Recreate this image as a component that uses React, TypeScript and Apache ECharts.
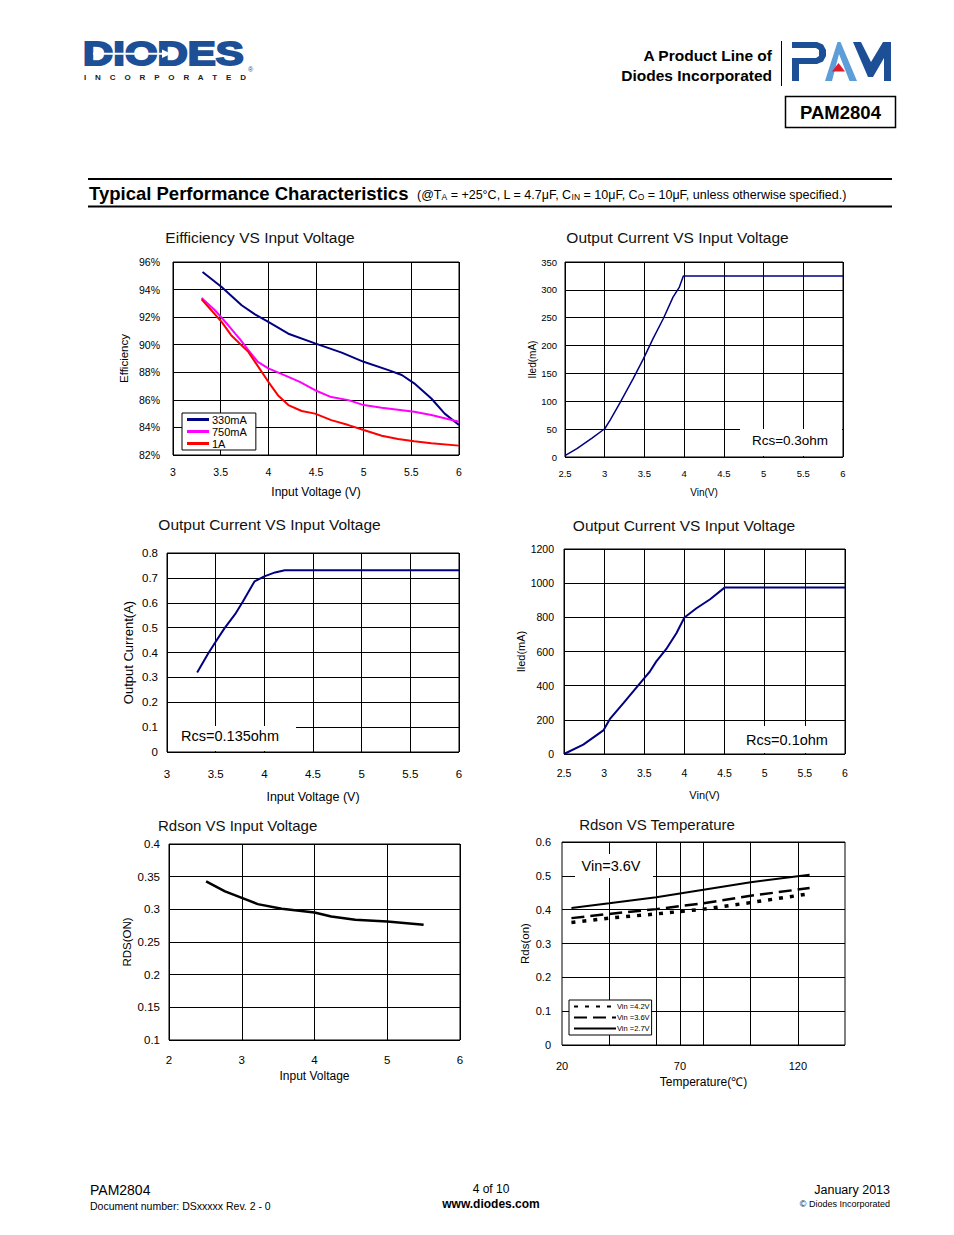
import React, { useEffect, useRef } from 'react';
import * as echarts from 'echarts';

// ---------- DATA ----------
const effVin330 = [3.31, 3.51, 3.72, 3.86, 4.0, 4.21, 4.49, 4.77, 5.0, 5.26, 5.4, 5.53, 5.71, 5.85, 6.0];
const eff330 = [95.28, 94.19, 92.86, 92.2, 91.66, 90.8, 90.1, 89.43, 88.76, 88.16, 87.8, 87.2, 86.1, 85.0, 84.17];
const effVin750 = [3.3, 3.44, 3.58, 3.71, 3.79, 3.89, 4.0, 4.21, 4.33, 4.49, 4.66, 4.84, 5.0, 5.19, 5.53, 5.71, 6.0];
const eff750 = [93.39, 92.5, 91.41, 90.33, 89.6, 88.76, 88.28, 87.67, 87.3, 86.7, 86.2, 85.98, 85.62, 85.43, 85.14, 84.9, 84.41];
const effVin1A = [3.3, 3.51, 3.61, 3.79, 4.0, 4.1, 4.21, 4.35, 4.49, 4.66, 4.84, 5.0, 5.19, 5.36, 5.53, 5.71, 6.0];
const eff1A = [93.3, 91.66, 90.69, 89.48, 87.31, 86.34, 85.62, 85.19, 85.0, 84.53, 84.17, 83.81, 83.4, 83.16, 83.0, 82.85, 82.68];
const effNames = ['330mA', '750mA', '1A'];

const vin03 = [2.5, 2.65, 2.84, 3.0, 3.07, 3.19, 3.36, 3.49, 3.61, 3.74, 3.86, 3.94, 3.99, 4.5, 5.0, 5.5, 6.0];
const iled03 = [2.4, 14.9, 34, 50.7, 66.8, 96.6, 141, 177, 213, 249, 287, 305, 325, 325, 325, 325, 325];

const vin0135 = [3.31, 3.42, 3.49, 3.59, 3.7, 3.78, 3.9, 4.0, 4.11, 4.21, 5.0, 6.0];
const iout0135 = [0.32, 0.394, 0.437, 0.497, 0.554, 0.605, 0.686, 0.706, 0.722, 0.731, 0.731, 0.731];

const vin01 = [2.5, 2.74, 2.99, 3.07, 3.24, 3.49, 3.57, 3.65, 3.78, 3.9, 4.0, 4.15, 4.32, 4.5, 5.0, 6.0];
const iled01 = [0, 54.5, 138, 204, 298, 438, 483, 542, 619, 707, 799, 853, 906, 974, 974, 974];

const rdsVin = [2.51, 2.77, 3.01, 3.22, 3.55, 4.0, 4.23, 4.56, 5.0, 5.5];
const rdsOn = [0.3428, 0.3274, 0.3172, 0.308, 0.3009, 0.2952, 0.2891, 0.284, 0.2814, 0.2763];

const tempC = [24, 40, 60, 80, 100, 125];
const rds27 = [0.405, 0.419, 0.437, 0.459, 0.481, 0.503];
const rds36 = [0.375, 0.3875, 0.4016, 0.419, 0.441, 0.464];
const rds42 = [0.362, 0.375, 0.3875, 0.4016, 0.421, 0.447];
const tempNames = ['Vin =4.2V', 'Vin =3.6V', 'Vin =2.7V'];
const tempGridLines = [40, 60, 70, 80, 100, 120];
const tempTickLabels = [20, 70, 120];

const zip = (xs: number[], ys: number[]) => xs.map((x, i) => [x, ys[i]]);

const FONT = "'Liberation Sans', Arial, sans-serif";
const NAVY = '#000080';
const BLUE = '#1d4f97';
const LIGHT = '#5d9dd8';

function xAx(gi: number, min: number, max: number, interval: number, name: string, nameGap: number, nameSize: number, fs: number, margin: number, extra: any = {}) {
  return {
    type: 'value', gridIndex: gi, min, max, interval, name, nameLocation: 'middle', nameGap,
    nameTextStyle: { fontFamily: FONT, fontSize: nameSize, color: '#000' },
    axisLine: { show: false }, axisTick: { show: false },
    axisLabel: { margin, fontFamily: FONT, fontSize: fs, color: '#000', ...(extra.axisLabel || {}) },
    splitLine: extra.splitLine || { show: true, lineStyle: { color: '#000', width: 1 } },
  };
}
function yAx(gi: number, min: number, max: number, interval: number, name: string, nameGap: number, nameSize: number, fs: number, margin: number, extra: any = {}) {
  return {
    type: 'value', gridIndex: gi, min, max, interval, name, nameLocation: 'middle', nameGap, nameRotate: 90,
    nameTextStyle: { fontFamily: FONT, fontSize: nameSize, color: '#000' },
    axisLine: { show: false }, axisTick: { show: false },
    axisLabel: { margin, fontFamily: FONT, fontSize: fs, color: '#000', formatter: (v: number) => String(v), ...(extra.axisLabel || {}) },
    splitLine: { show: true, lineStyle: { color: '#000', width: 1 } },
  };
}
function grid(left: number, top: number, width: number, height: number) {
  return { left, top, width, height, show: true, borderColor: '#000', borderWidth: 1, backgroundColor: 'transparent', containLabel: false, outerBoundsMode: 'none' };
}
function txt(text: string, x: number, y: number, fontSize: number, opts: any = {}) {
  const align = opts.align || 'left';
  return {
    type: 'text', x, y, z: opts.z || 50, scaleX: opts.scaleX || 1,
    style: {
      text, fontSize, fontFamily: opts.font || FONT, fontWeight: opts.bold ? 'bold' : 'normal',
      fill: opts.fill || '#000', stroke: opts.stroke, lineWidth: opts.lineWidth,
      align, textAlign: align, verticalAlign: 'middle', textVerticalAlign: 'middle',
      rich: opts.rich,
    },
  };
}
function whiteBox(x: number, y: number, w: number, h: number) {
  return { type: 'rect', z: 49, shape: { x, y, width: w, height: h }, style: { fill: '#fff' } };
}

function buildOption() {
  const line = (name: string, data: number[][], gi: number, color: string, width: number, type: any = 'solid', extra: any = {}) => ({
    name, type: 'line', xAxisIndex: gi, yAxisIndex: gi, data, showSymbol: false, symbol: 'none',
    lineStyle: { color, width, type }, itemStyle: { color }, z: 3, ...extra,
  });

  const graphics: any[] = [
    // DIODES logo
    txt('DIODES', 83, 54, 33, { bold: true, fill: BLUE, stroke: BLUE, lineWidth: 2, scaleX: 1.27 }),
    { type: 'rect', z: 60, shape: { x: 93, y: 52.8, width: 70, height: 2 }, style: { fill: '#fff' } },
    { type: 'polygon', z: 60, shape: { points: [[162, 49.5], [171, 53.8], [162, 58]] }, style: { fill: '#fff' } },
    txt('I    N    C    O    R    P    O    R    A    T    E    D', 84, 77.5, 8, { bold: true, fill: '#222' }),
    txt('®', 248, 69, 7, { fill: BLUE }),
    // right header
    txt('A Product Line of', 772, 55, 15.5, { bold: true, align: 'right' }),
    txt('Diodes Incorporated', 772, 75, 15.5, { bold: true, align: 'right' }),
    { type: 'line', shape: { x1: 781.5, y1: 41, x2: 781.5, y2: 86 }, style: { stroke: '#000', lineWidth: 1 } },
    { type: 'polygon', shape: { points: [[792, 42], [817, 42], [823, 44.5], [826, 50], [826, 56], [823, 61.5], [817, 64], [799, 64], [799, 81], [792, 81], [792, 58], [816, 58], [819, 56], [819, 50], [816, 48], [792, 48]] }, style: { fill: BLUE } },
    { type: 'polygon', shape: { points: [[825, 81], [837.5, 42], [840.5, 42], [857, 81], [849.5, 81], [839, 54], [832, 81]] }, style: { fill: LIGHT } },
    { type: 'polygon', shape: { points: [[832, 71.5], [838.5, 63], [845, 71.5]] }, style: { fill: '#e0192b' } },
    { type: 'polygon', shape: { points: [[853, 42], [861, 42], [871, 62], [883, 42], [891, 42], [891, 81], [884, 81], [884, 58], [873, 77], [868, 77]] }, style: { fill: BLUE } },
    { type: 'rect', shape: { x: 785.5, y: 96.5, width: 110, height: 31 }, style: { fill: 'none', stroke: '#000', lineWidth: 1.5 } },
    txt('PAM2804', 840.5, 112, 18.5, { bold: true, align: 'center' }),
    // section header
    { type: 'line', shape: { x1: 88, y1: 179, x2: 892, y2: 179 }, style: { stroke: '#000', lineWidth: 2 } },
    { type: 'line', shape: { x1: 88, y1: 206.5, x2: 892, y2: 206.5 }, style: { stroke: '#000', lineWidth: 2 } },
    txt('Typical Performance Characteristics', 89, 193, 18.5, { bold: true }),
    txt('(@T{s|A} = +25°C, L = 4.7μF, C{s|IN} = 10μF, C{s|O} = 10μF, unless otherwise specified.)', 417, 195, 12.5, {
      rich: { s: { fontSize: 8.5, fontFamily: FONT, verticalAlign: 'bottom', fill: '#000', color: '#000' } },
    }),
    // chart titles
    txt('Eifficiency VS Input Voltage', 260, 237, 15.5, { align: 'center', fill: '#111' }),
    txt('Output Current VS Input Voltage', 677.5, 237.5, 15.5, { align: 'center', fill: '#111' }),
    txt('Output Current VS Input Voltage', 269.5, 524, 15.5, { align: 'center', fill: '#111' }),
    txt('Output Current VS Input Voltage', 684, 525, 15.5, { align: 'center', fill: '#111' }),
    txt('Rdson VS Input Voltage', 158, 825, 15, { fill: '#111' }),
    txt('Rdson VS Temperature', 657, 824, 15, { align: 'center', fill: '#111' }),
    // annotations
    whiteBox(740, 429, 102, 27),
    txt('Rcs=0.3ohm', 790, 440, 13.5, { align: 'center', z: 51 }),
    whiteBox(168, 726, 128, 25),
    txt('Rcs=0.135ohm', 230, 735.5, 14.5, { align: 'center', z: 51 }),
    whiteBox(734, 726, 110, 27),
    txt('Rcs=0.1ohm', 787, 740, 14.5, { align: 'center', z: 51 }),
    whiteBox(575, 854, 78, 24),
    txt('Vin=3.6V', 611, 866, 14.5, { align: 'center', z: 51 }),
    // footer
    txt('PAM2804', 90, 1190, 14),
    txt('Document number: DSxxxxx Rev. 2 - 0', 90, 1206, 10.5),
    txt('4 of 10', 491, 1189, 12, { align: 'center' }),
    txt('www.diodes.com', 491, 1204, 12, { bold: true, align: 'center' }),
    txt('January 2013', 890, 1190, 12.5, { align: 'right' }),
    txt('© Diodes Incorporated', 890, 1204, 9, { align: 'right' }),
  ];

  return {
    animation: false,
    backgroundColor: '#fff',
    textStyle: { fontFamily: FONT },
    grid: [
      grid(173, 262, 286, 193),
      grid(565, 262, 278, 195),
      grid(167, 553, 292, 199),
      grid(564, 549, 281, 205),
      grid(169, 844, 291, 196),
      grid(562, 842, 283, 203),
    ],
    xAxis: [
      xAx(0, 3, 6, 0.5, 'Input Voltage (V)', 31, 12, 10.5, 11),
      xAx(1, 2.5, 6, 0.5, 'Vin(V)', 30, 10, 9.5, 11),
      xAx(2, 3, 6, 0.5, 'Input Voltage (V)', 38, 12.5, 11.5, 16),
      xAx(3, 2.5, 6, 0.5, 'Vin(V)', 35, 11, 10.5, 13),
      xAx(4, 2, 6, 1, 'Input Voltage', 30, 12, 11.5, 14),
      xAx(5, 20, 140, 10, 'Temperature(℃)', 31, 12, 11, 15, {
        axisLabel: { formatter: (v: number) => (tempTickLabels.includes(v) ? String(v) : '') },
        splitLine: { show: false },
      }),
    ],
    yAxis: [
      yAx(0, 82, 96, 2, 'Efficiency', 43, 11.5, 10.5, 13, { axisLabel: { formatter: '{value}%' } }),
      yAx(1, 0, 350, 50, 'Iled(mA)', 28, 10, 9.5, 8),
      yAx(2, 0, 0.8, 0.1, 'Output Current(A)', 32, 13, 11.5, 9),
      yAx(3, 0, 1200, 200, 'Iled(mA)', 38, 11, 10.5, 10),
      yAx(4, 0.1, 0.4, 0.05, 'RDS(ON)', 36, 11.5, 11.5, 9),
      yAx(5, 0, 0.6, 0.1, 'Rds(on)', 31, 11.5, 11, 11),
    ],
    legend: [
      {
        data: effNames, left: 182, top: 413, orient: 'vertical', itemGap: 1, itemWidth: 22, itemHeight: 3, icon: 'rect',
        padding: [1, 9, 1, 5], borderColor: '#000', borderWidth: 1, backgroundColor: '#fff', selectedMode: false,
        textStyle: { fontFamily: FONT, fontSize: 11, color: '#000', lineHeight: 11, padding: [0, 0, 0, -2] },
      },
      {
        data: tempNames, left: 569, top: 1000, orient: 'vertical', itemGap: 2, itemWidth: 42, itemHeight: 9,
        padding: [2, 2, 2, 4], borderColor: '#000', borderWidth: 1, backgroundColor: '#fff', selectedMode: false,
        itemStyle: { opacity: 0 },
        textStyle: { fontFamily: FONT, fontSize: 7.5, color: '#000', lineHeight: 9, padding: [0, 0, 0, -4] },
      },
    ],
    series: [
      line(effNames[0], zip(effVin330, eff330), 0, NAVY, 2),
      line(effNames[1], zip(effVin750, eff750), 0, '#ff00ff', 2),
      line(effNames[2], zip(effVin1A, eff1A), 0, '#ff0000', 2),
      line('Rcs=0.3ohm', zip(vin03, iled03), 1, NAVY, 1.5),
      line('Rcs=0.135ohm', zip(vin0135, iout0135), 2, NAVY, 2),
      line('Rcs=0.1ohm', zip(vin01, iled01), 3, NAVY, 2),
      line('Rdson', zip(rdsVin, rdsOn), 4, '#000', 2.5),
      line(tempNames[0], zip(tempC, rds42), 5, '#000', 3.5, [4, 7]),
      line(tempNames[1], zip(tempC, rds36), 5, '#000', 2.5, [13, 6]),
      line(tempNames[2], zip(tempC, rds27), 5, '#000', 2, 'solid', {
        markLine: {
          silent: true, symbol: 'none', z: 1, label: { show: false },
          lineStyle: { color: '#000', width: 1, type: 'solid' },
          data: tempGridLines.map((v) => ({ xAxis: v })),
        },
      }),
    ],
    graphic: { elements: graphics },
  };
}

export default function App() {
  const ref = useRef<HTMLDivElement>(null);
  useEffect(() => {
    if (!ref.current) return;
    const chart = echarts.init(ref.current, null, { renderer: 'svg' });
    chart.setOption(buildOption() as any);
    return () => chart.dispose();
  }, []);
  return <div ref={ref} style={{ position: 'absolute', left: 0, top: 0, width: 954, height: 1235 }} />;
}
